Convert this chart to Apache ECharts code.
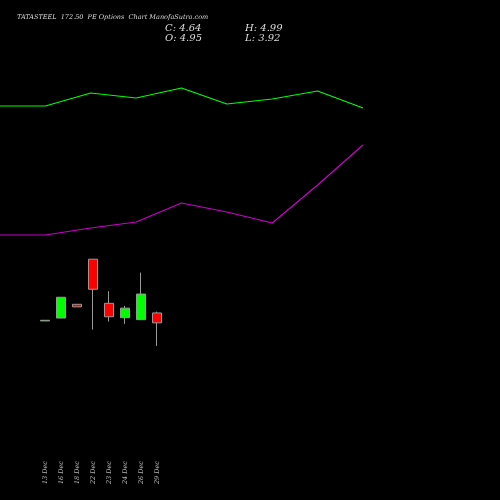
<!DOCTYPE html><html><head><meta charset="utf-8"><script src="https://cdn.jsdelivr.net/npm/echarts@6/dist/echarts.min.js"></script></head><body style="margin:0;background:#000"><div id="c" style="width:500px;height:500px"></div><script>
const dates=["13 Dec","16 Dec","18 Dec","22 Dec","23 Dec","24 Dec","26 Dec","29 Dec"];
const ohlc=[[4.70,4.72,4.70,4.72],[4.79,5.44,4.79,5.44],[5.22,5.14,5.14,5.22],[6.63,5.69,4.43,6.63],[5.25,4.83,4.68,5.63],[4.80,5.10,4.61,5.17],[4.74,5.54,4.74,6.21],[4.95,4.64,3.92,4.99]];
const greenLine=[106,106,93,98,88,104,99,91,108];
const purpleLine=[235,235,228,222,203,212,223,185,145];
const idx=greenLine.map((_,i)=>i);
const ch=echarts.init(document.getElementById('c'));
const ft={fontFamily:'DejaVu Serif',fontStyle:'italic'};
ch.setOption({backgroundColor:'#000',animation:false,
title:[{text:'TATASTEEL  172.50  PE Options  Chart ManofaSutra.com',left:12,top:9,textStyle:Object.assign({color:'#ddd',fontSize:6.5,fontWeight:'normal'},ft)},
{text:'C: 4.64',left:160,top:18,textStyle:Object.assign({color:'#ddd',fontSize:10,fontWeight:'normal'},ft)},
{text:'O: 4.95',left:160,top:28,textStyle:Object.assign({color:'#ddd',fontSize:10,fontWeight:'normal'},ft)},
{text:'H: 4.99',left:240,top:18,textStyle:Object.assign({color:'#ddd',fontSize:10,fontWeight:'normal'},ft)},
{text:'L: 3.92',left:240,top:28,textStyle:Object.assign({color:'#ddd',fontSize:10,fontWeight:'normal'},ft)}],
grid:[{left:37,width:128,top:0,height:455},{left:0,width:363,top:0,height:500}],
xAxis:[{type:'category',data:dates,gridIndex:0,axisLine:{show:false},axisTick:{show:false},axisLabel:Object.assign({color:'#bbb',fontSize:6.5,rotate:90,margin:6,interval:0},ft)},
{type:'category',data:idx,gridIndex:1,boundaryGap:false,show:false}],
yAxis:[{gridIndex:0,min:0.51,max:14.73,show:false,splitLine:{show:false}},
{gridIndex:1,min:0,max:500,inverse:true,show:false,splitLine:{show:false}}],
series:[{type:'candlestick',data:ohlc,xAxisIndex:0,yAxisIndex:0,barWidth:9,itemStyle:{color:'#00ff00',color0:'#ff0000',borderColor:'#999',borderColor0:'#999',borderWidth:1}},
{type:'line',data:greenLine,xAxisIndex:1,yAxisIndex:1,symbol:'none',lineStyle:{color:'#00ff00',width:1.2}},
{type:'line',data:purpleLine,xAxisIndex:1,yAxisIndex:1,symbol:'none',lineStyle:{color:'#cc00cc',width:1.2}}]});
</script></body></html>
